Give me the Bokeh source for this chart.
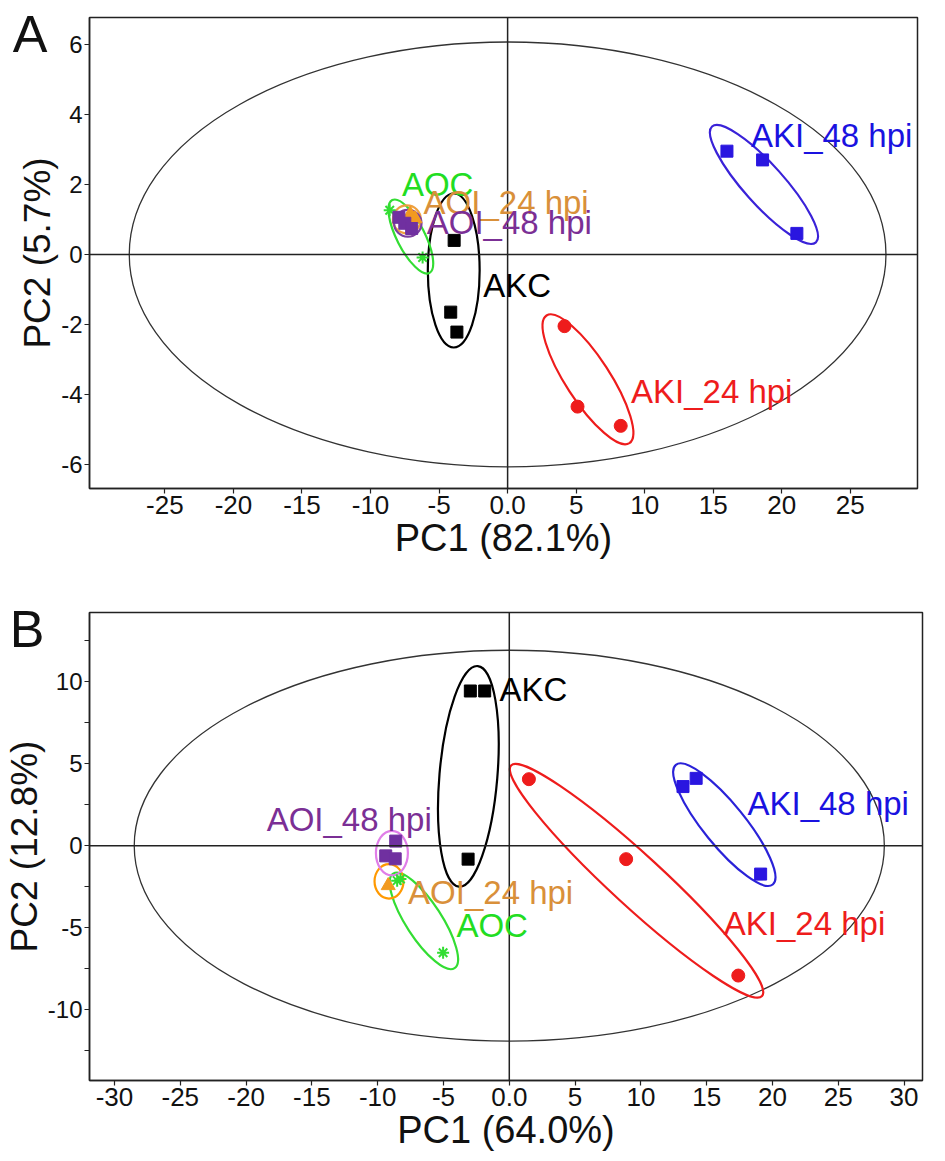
from bokeh.plotting import figure
from bokeh.layouts import column
from bokeh.models import ColumnDataSource, FixedTicker, Span, LabelSet, LinearAxis
from bokeh.core.properties import value
from bokeh.embed import file_html
from bokeh.resources import INLINE

# ---------------- shared ----------------
groups = ["AKC", "AKI_24 hpi", "AKI_48 hpi", "AOC", "AOI_24 hpi", "AOI_48 hpi"]

# ---------------- Panel A data ----------------
A_x_ticks = [-25, -20, -15, -10, -5, 0, 5, 10, 15, 20, 25]
A_x_tick_labels = ["-25", "-20", "-15", "-10", "-5", "0.0", "5", "10", "15", "20", "25"]
A_y_ticks = [-6, -4, -2, 0, 2, 4, 6]
A_y_tick_labels = ["-6", "-4", "-2", "0", "2", "4", "6"]
A_x_label = "PC1 (82.1%)"
A_y_label = "PC2 (5.7%)"
A_letter = "A"

A_AKC_x = [-3.9, -4.15, -3.7]
A_AKC_y = [0.4, -1.65, -2.22]
A_AKI24_x = [4.15, 5.1, 8.25]
A_AKI24_y = [-2.05, -4.35, -4.9]
A_AKI48_x = [16.0, 18.6, 21.1]
A_AKI48_y = [2.95, 2.7, 0.6]
A_AOC_x = [-8.6, -6.2]
A_AOC_y = [1.26, -0.09]
A_AOI24_x = [-7.1, -6.75]
A_AOI24_y = [1.15, 1.02]
A_AOI48_x = [-7.93, -7.5, -7.0]
A_AOI48_y = [1.06, 0.89, 0.74]

A_ell_cx = [-3.93, 5.86, 18.7, -7.06, -7.35, -7.28]
A_ell_cy = [-0.46, -3.57, 2.0, 0.51, 1.0, 0.89]
A_ell_w = [3.78, 11.1, 11.35, 5.97, 2.04, 2.0]
A_ell_h = [4.4, 1.26, 1.14, 0.8, 0.8, 0.77]
A_ell_angle = [0.0, -0.995, -0.84, -1.1, 0.0, 0.0]

A_lab_x = [-1.77, 9.0, 17.75, -7.71, -6.13, -5.9]
A_lab_y = [-1.22, -4.26, 3.06, 1.66, 1.16, 0.57]

A_T2_w = 55.2
A_T2_h = 12.14

# ---------------- Panel B data ----------------
B_x_ticks = [-30, -25, -20, -15, -10, -5, 0, 5, 10, 15, 20, 25, 30]
B_x_tick_labels = ["-30", "-25", "-20", "-15", "-10", "-5", "0.0", "5", "10", "15", "20", "25", "30"]
B_y_ticks = [-10, -5, 0, 5, 10]
B_y_tick_labels = ["-10", "-5", "0", "5", "10"]
B_y_minor = [-12.5, -7.5, -2.5, 2.5, 7.5, 12.5]
B_x_label = "PC1 (64.0%)"
B_y_label = "PC2 (12.8%)"
B_letter = "B"

B_AKC_x = [-2.96, -1.87, -3.13]
B_AKC_y = [9.42, 9.42, -0.82]
B_AKI24_x = [1.49, 8.88, 17.4]
B_AKI24_y = [4.05, -0.82, -7.91]
B_AKI48_x = [13.2, 14.2, 19.1]
B_AKI48_y = [3.6, 4.1, -1.73]
B_AOC_x = [-8.27, -8.52, -5.03]
B_AOC_y = [-2.03, -2.13, -6.52]
B_AOI24_x = [-9.2]
B_AOI24_y = [-2.43]
B_AOI48_x = [-8.63, -9.39, -8.67]
B_AOI48_y = [0.28, -0.62, -0.80]

B_ell_cx = [-3.11, 9.67, 16.34, -6.49, -9.14, -8.92]
B_ell_cy = [4.22, -2.14, 1.28, -4.58, -2.17, -0.45]
B_ell_w = [4.4, 25.9, 11.7, 8.57, 2.2, 2.43]
B_ell_h = [13.5, 3.13, 2.53, 2.17, 2.1, 2.71]
B_ell_angle = [-0.085, -0.743, -0.89, -0.995, 0.0, 0.0]

B_lab_x = [-0.74, 16.3, 18.1, -4.02, -7.69, -18.44]
B_lab_y = [8.81, -5.44, 1.89, -5.54, -3.57, 0.89]

B_T2_w = 57.0
B_T2_h = 23.8

# ---------------- styles ----------------
FONT = "Liberation Sans"
NARROW = "'Liberation Sans Narrow', 'Liberation Sans', sans-serif"
marker_of = {"AKC": "square", "AKI_24 hpi": "circle", "AKI_48 hpi": "square",
             "AOC": "asterisk", "AOI_24 hpi": "triangle", "AOI_48 hpi": "square"}
point_color = {"AKC": "#000000", "AKI_24 hpi": "#ee1c1c", "AKI_48 hpi": "#2a16e0",
               "AOC": "#33dd33", "AOI_24 hpi": "#f29a20", "AOI_48 hpi": "#7030a0"}
label_color = {"AKC": "#000000", "AKI_24 hpi": "#ee1c1c", "AKI_48 hpi": "#1a12e0",
               "AOC": "#22dd22", "AOI_24 hpi": "#d9903a", "AOI_48 hpi": "#7b2f95"}
ell_color_A = {"AKC": "#000000", "AKI_24 hpi": "#ee1c1c", "AKI_48 hpi": "#3a22d8",
               "AOC": "#33dd33", "AOI_24 hpi": "#eea040", "AOI_48 hpi": "#7d3fa0"}
ell_color_B = dict(ell_color_A, **{"AOI_24 hpi": "#ff9900", "AOI_48 hpi": "#e07ee8",
                                   "AKI_48 hpi": "#2a22d8"})
marker_size = {"square": 12, "circle": 13, "asterisk": 12, "triangle": 14}


def make_panel(letter, letter_pos, letter_standoff, xr, yr, fw, fh, borders,
               xt, xtl, yt, ytl, y_minor, xlab, ylab,
               pts, ecx, ecy, ew, eh, eang, ecol, lx, ly, t2w, t2h):
    p = figure(x_range=xr, y_range=yr, frame_width=fw, frame_height=fh,
               output_backend="svg", toolbar_location=None,
               min_border_left=borders[0], min_border_right=borders[1],
               min_border_top=borders[2], min_border_bottom=borders[3])
    p.background_fill_color = "white"
    p.border_fill_color = "white"
    p.grid.visible = False
    p.outline_line_color = "#222222"
    p.outline_line_width = 1.5

    p.xaxis.ticker = FixedTicker(ticks=xt, minor_ticks=[])
    p.yaxis.ticker = FixedTicker(ticks=yt, minor_ticks=y_minor)
    p.xaxis.major_label_overrides = dict(zip(xt, xtl))
    p.yaxis.major_label_overrides = dict(zip(yt, ytl))
    p.xaxis.axis_label = xlab
    p.yaxis.axis_label = ylab
    for ax in (p.xaxis[0], p.yaxis[0]):
        ax.axis_line_color = "#222222"
        ax.axis_line_width = 1.5
        ax.major_tick_in = 0
        ax.major_tick_out = 5
        ax.minor_tick_in = 0
        ax.minor_tick_out = 5
        ax.major_tick_line_color = "#222222"
        ax.minor_tick_line_color = "#222222"
        ax.major_tick_line_width = 1.2
        ax.minor_tick_line_width = 1.2
        ax.major_label_text_color = "#111111"
        ax.axis_label_text_color = "#111111"
        ax.axis_label_text_font = FONT
        ax.axis_label_text_font_style = "normal"
        ax.axis_label_standoff = 0
        ax.major_label_standoff = 2
    p.xaxis.axis_label_text_font_size = "38px"
    p.yaxis.axis_label_text_font_size = "37px"
    p.xaxis.major_label_text_font = NARROW
    p.xaxis.major_label_text_font_size = "26px"
    p.yaxis.major_label_text_font = FONT
    p.yaxis.major_label_text_font_size = "24px"

    # panel letter: a bare outer axis whose single tick label is the letter
    lax = LinearAxis(ticker=FixedTicker(ticks=[letter_pos], minor_ticks=[]),
                     major_label_overrides={letter_pos: letter})
    lax.axis_line_color = None
    lax.major_tick_line_color = None
    lax.minor_tick_line_color = None
    lax.major_tick_in = 0
    lax.major_tick_out = 0
    lax.major_label_standoff = letter_standoff
    lax.major_label_text_font = FONT
    lax.major_label_text_font_size = "52px"
    lax.major_label_text_color = "#111111"
    p.add_layout(lax, "left")

    # Hotelling T2 ellipse and zero lines
    p.ellipse(x=[0], y=[0], width=[t2w], height=[t2h], fill_color=None,
              line_color="#333333", line_width=1.3)
    p.add_layout(Span(location=0, dimension="height", line_color="#222222", line_width=1.5))
    p.add_layout(Span(location=0, dimension="width", line_color="#222222", line_width=1.5))

    # group ellipses
    esrc = ColumnDataSource(dict(x=ecx, y=ecy, w=ew, h=eh, a=eang,
                                 c=[ecol[g] for g in groups]))
    p.ellipse(x="x", y="y", width="w", height="h", angle="a", source=esrc,
              fill_color=None, line_color="c", line_width=2.2)

    # points
    order = ["AOC", "AOI_24 hpi", "AOI_48 hpi", "AKC", "AKI_24 hpi", "AKI_48 hpi"]
    for g in order:
        xs, ys = pts[g]
        m = marker_of[g]
        if m == "asterisk":
            p.scatter(xs, ys, marker=m, size=marker_size[m], line_color=point_color[g],
                      line_width=2)
        else:
            p.scatter(xs, ys, marker=m, size=marker_size[m], fill_color=point_color[g],
                      line_color=point_color[g], line_width=1)

    # group labels
    tsrc = ColumnDataSource(dict(x=lx, y=ly, t=groups, c=[label_color[g] for g in groups]))
    p.add_layout(LabelSet(x="x", y="y", text="t", source=tsrc, text_color="c",
                          text_font=value(FONT), text_font_size="33px",
                          text_align="left", text_baseline="alphabetic"))
    return p


ptsA = {"AKC": (A_AKC_x, A_AKC_y), "AKI_24 hpi": (A_AKI24_x, A_AKI24_y),
        "AKI_48 hpi": (A_AKI48_x, A_AKI48_y), "AOC": (A_AOC_x, A_AOC_y),
        "AOI_24 hpi": (A_AOI24_x, A_AOI24_y), "AOI_48 hpi": (A_AOI48_x, A_AOI48_y)}
ptsB = {"AKC": (B_AKC_x, B_AKC_y), "AKI_24 hpi": (B_AKI24_x, B_AKI24_y),
        "AKI_48 hpi": (B_AKI48_x, B_AKI48_y), "AOC": (B_AOC_x, B_AOC_y),
        "AOI_24 hpi": (B_AOI24_x, B_AOI24_y), "AOI_48 hpi": (B_AOI48_x, B_AOI48_y)}

pA = make_panel(A_letter, 6.3, -33, (-30.5, 29.9), (-6.69, 6.77), 828, 471, (84, 23, 17, 107),
                A_x_ticks, A_x_tick_labels, A_y_ticks, A_y_tick_labels, [],
                A_x_label, A_y_label, ptsA,
                A_ell_cx, A_ell_cy, A_ell_w, A_ell_h, A_ell_angle, ell_color_A,
                A_lab_x, A_lab_y, A_T2_w, A_T2_h)
pB = make_panel(B_letter, 13.2, -44, (-31.9, 31.4), (-14.3, 14.2), 833, 468, (84, 18, 17, 76),
                B_x_ticks, B_x_tick_labels, B_y_ticks, B_y_tick_labels, B_y_minor,
                B_x_label, B_y_label, ptsB,
                B_ell_cx, B_ell_cy, B_ell_w, B_ell_h, B_ell_angle, ell_color_B,
                B_lab_x, B_lab_y, B_T2_w, B_T2_h)

layout = column(pA, pB, spacing=0)
open("out.html", "w").write(file_html(layout, INLINE))
